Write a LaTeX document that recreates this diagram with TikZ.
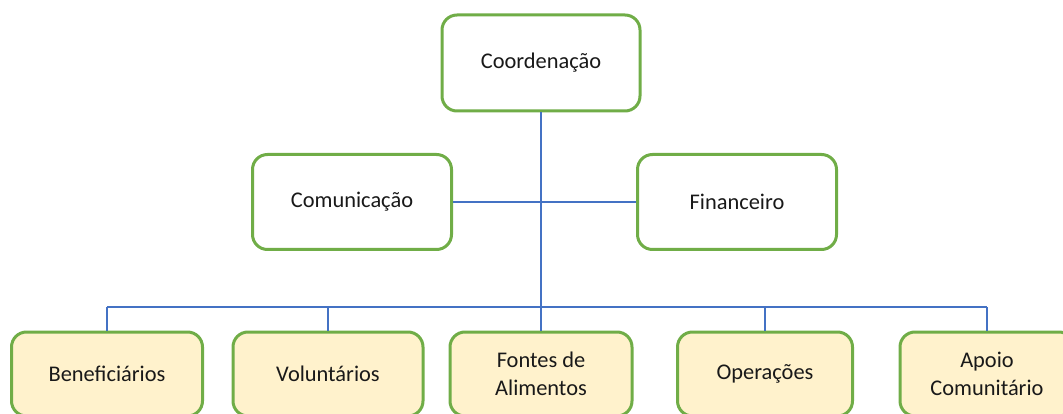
\documentclass[tikz,border=0pt]{standalone}
\usepackage{fontspec}
\setmainfont{Carlito}
\definecolor{boxgreen}{HTML}{70AD47}
\definecolor{linkblue}{HTML}{4472C4}
\definecolor{boxfill}{HTML}{FFF2CC}
\begin{document}
\begin{tikzpicture}[x=1pt, y=-1pt,
    main/.style = {draw=boxgreen, line width=3pt, rounded corners=15pt, fill=white,
                   inner sep=0pt, align=center, text=black!90,
                   font=\fontsize{22.4}{28}\selectfont},
    sub/.style = {main, fill=boxfill, minimum height=84pt},
    link/.style = {draw=linkblue, line width=2pt}]
    \useasboundingbox (0,0) rectangle (1063,414);

    \coordinate (bus) at (541,307);

    \node[main] (coord) [minimum width=198pt, minimum height=96pt] at (541,63) {Coordenação};
    \node[main] (comun) [minimum width=199pt, minimum height=95pt] at (352,202) {Comunicação};
    \node[main] (fin) [minimum width=199pt, minimum height=95pt] at (737,202) {Financeiro};

    \node[sub] (benef) [minimum width=191pt] at (107,374) {Beneficiários};
    \node[sub] (volunt) [minimum width=190pt] at (328,374) {Voluntários};
    \node[sub] (fontes) [minimum width=182pt] at (541,374) {Fontes de\\Alimentos};
    \node[sub] (oper) [minimum width=175pt] at (765,374) {Operações};
    \node[sub] (apoio) [minimum width=174pt] at (987,374) {Apoio\\Comunitário};

    \path[link] (coord.south) -- (bus);
    \path[link] (comun.east) -- (fin.west);
    \path[link] (benef.north |- bus) -- (apoio.north |- bus);
    \path[link] (benef.north) -- (benef.north |- bus);
    \path[link] (volunt.north) -- (volunt.north |- bus);
    \path[link] (fontes.north) -- (bus);
    \path[link] (oper.north) -- (oper.north |- bus);
    \path[link] (apoio.north) -- (apoio.north |- bus);

\end{tikzpicture}
\end{document}
